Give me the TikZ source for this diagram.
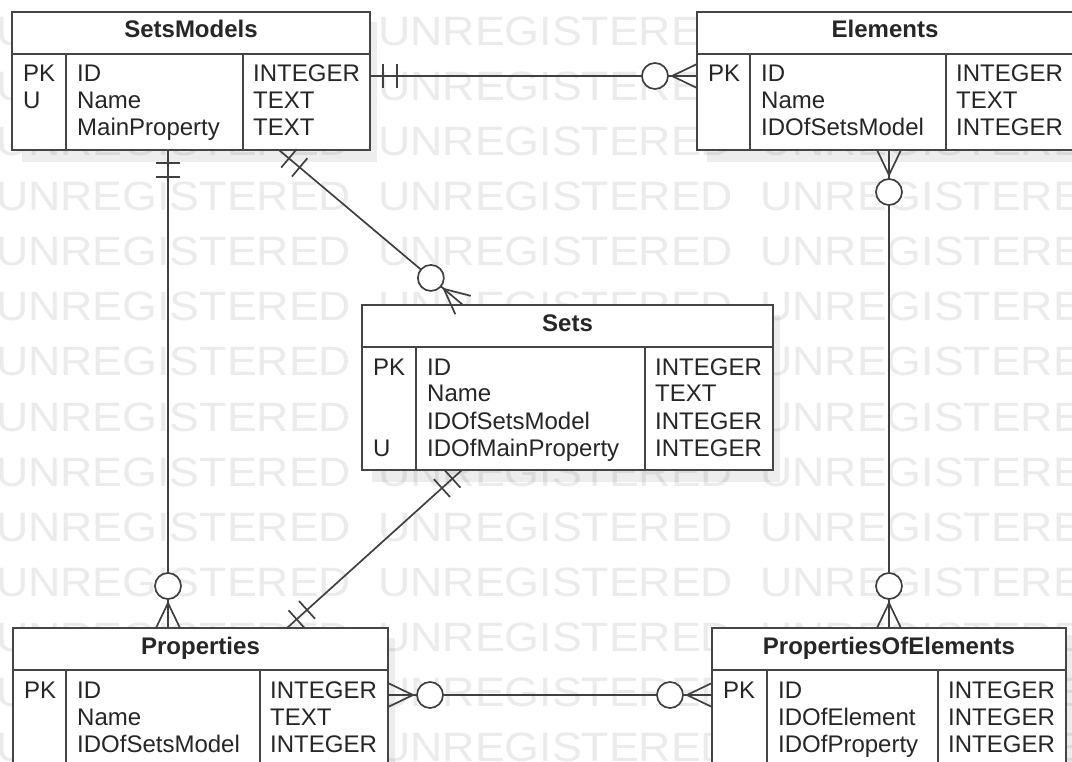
\documentclass[tikz,border=0pt]{standalone}
\usepackage{fontspec}
\usepackage{graphicx}
\setmainfont{Liberation Sans}
\usetikzlibrary{calc}
\definecolor{boxc}{HTML}{454545}
\definecolor{txtc}{HTML}{262626}
\definecolor{wmc}{HTML}{EBEBEB}
\definecolor{linec}{HTML}{404040}
\tikzset{
 tbox/.style={draw=boxc, line width=2pt, fill=white, inner sep=0pt, outer sep=0pt, anchor=north west},
 tline/.style={draw=boxc, line width=2pt},
 ttext/.style={anchor=base, inner sep=0pt, text=txtc, font=\fontsize{24pt}{27pt}\selectfont\bfseries},
 ctext/.style={anchor=base west, inner sep=0pt, text=txtc, font=\fontsize{24pt}{27pt}\selectfont},
 wmtext/.style={anchor=base west, inner sep=0pt, text=wmc, font=\fontsize{41pt}{46pt}\selectfont},
 conn/.style={draw=linec, line width=1.7pt},
 shadowc/.style={fill=black, fill opacity=0.07},
}
% table: name, left, top, width, height, div1, div2, title
\newcommand{\ertable}[8]{%
  \fill[shadowc] ({#2+10},{#3+10}) rectangle ({#2+#4+7},{#3+#5+12});
  \node[tbox, minimum width=#4pt, minimum height=#5pt] (#1) at (#2,#3) {};
  \draw[tline] ($(#1.north west)+(0,42)$) -- ($(#1.north east)+(0,42)$);
  \draw[tline] ($(#1.north west)+(#6,42)$) -- ($(#1.south west)+(#6,0)$);
  \draw[tline] ($(#1.north west)+(#7,42)$) -- ($(#1.south west)+(#7,0)$);
  \node[ttext] (#1-title) at ($(#1.north)+(0,26)$) {#8};
}
% row: table, index, div1, div2, key, field, type
\newcommand{\errow}[7]{%
  \node[ctext] (#1-k#2) at ($(#1.north west)+(11,{70+27*#2})$) {#5};
  \node[ctext] (#1-f#2) at ($(#1.north west)+({#3+11},{70+27*#2})$) {#6};
  \node[ctext] (#1-t#2) at ($(#1.north west)+({#4+10},{70+27*#2})$) {#7};
}
% mandatory one end: endpoint, other point
\newcommand{\crone}[2]{%
  \coordinate (tmpqa) at ($(#1)!13pt!(#2)$);
  \coordinate (tmpqb) at ($(#1)!27pt!(#2)$);
  \draw[conn] ($(tmpqa)!12pt!90:(#2)$) -- ($(tmpqa)!12pt!-90:(#2)$);
  \draw[conn] ($(tmpqb)!12pt!90:(#2)$) -- ($(tmpqb)!12pt!-90:(#2)$);
}
% optional many end: endpoint, other point
\newcommand{\crmany}[2]{%
  \coordinate (tmph) at ($(#1)!25pt!(#2)$);
  \draw[conn] ($(#1)!12pt!90:(#2)$) -- (tmph) -- ($(#1)!12pt!-90:(#2)$);
  \draw[conn, fill=white] ($(#1)!42pt!(#2)$) circle[radius=13pt];
}
\begin{document}
\begin{tikzpicture}[x=1pt, y=-1pt]
\useasboundingbox (0,0) rectangle (1072,762);
\clip (0,0) rectangle (1072,762);
\fill[white] (0,0) rectangle (1072,762);
% watermark
\foreach \r in {0,...,13} {
  \foreach \c in {0,1,2} {
    \node[wmtext] (wm-\r-\c) at ({-4+382*\c},{46+55*\r}) {\scalebox{1.09}[1]{UNREGISTERED}};
  }
}
% tables
\ertable{sm}{12}{12}{358}{138}{54}{231}{SetsModels}
\errow{sm}{0}{54}{231}{PK}{ID}{INTEGER}
\errow{sm}{1}{54}{231}{U}{Name}{TEXT}
\errow{sm}{2}{54}{231}{}{MainProperty}{TEXT}

\ertable{el}{697}{12}{376}{138}{53}{249}{Elements}
\errow{el}{0}{53}{249}{PK}{ID}{INTEGER}
\errow{el}{1}{53}{249}{}{Name}{TEXT}
\errow{el}{2}{53}{249}{}{IDOfSetsModel}{INTEGER}

\ertable{st}{362}{305}{411}{165}{54}{283}{Sets}
\errow{st}{0}{54}{283}{PK}{ID}{INTEGER}
\errow{st}{1}{54}{283}{}{Name}{TEXT}
\errow{st}{2}{54}{283}{}{IDOfSetsModel}{INTEGER}
\errow{st}{3}{54}{283}{U}{IDOfMainProperty}{INTEGER}

\ertable{pr}{13}{628}{375}{138}{53}{247}{Properties}
\errow{pr}{0}{53}{247}{PK}{ID}{INTEGER}
\errow{pr}{1}{53}{247}{}{Name}{TEXT}
\errow{pr}{2}{53}{247}{}{IDOfSetsModel}{INTEGER}

\ertable{poe}{712}{628}{354}{138}{55}{226}{PropertiesOfElements}
\errow{poe}{0}{55}{226}{PK}{ID}{INTEGER}
\errow{poe}{1}{55}{226}{}{IDOfElement}{INTEGER}
\errow{poe}{2}{55}{226}{}{IDOfProperty}{INTEGER}

% connector endpoints
\coordinate (c1a) at ($(sm.north east)+(0,64)$);
\coordinate (c1b) at ($(el.north west)+(0,64)$);
\coordinate (c2a) at ($(sm.south west)+(156,0)$);
\coordinate (c2b) at ($(pr.north west)+(155,0)$);
\coordinate (c3a) at ($(sm.south west)+(267,0)$);
\coordinate (c3b) at ($(st.north west)+(101,0)$);
\coordinate (c4a) at ($(st.south west)+(100,0)$);
\coordinate (c4b) at ($(pr.north west)+(274,0)$);
\coordinate (c5a) at ($(el.south west)+(192,0)$);
\coordinate (c5b) at ($(poe.north west)+(177,0)$);
\coordinate (c6a) at ($(pr.north east)+(0,67)$);
\coordinate (c6b) at ($(poe.north west)+(0,67)$);

% connectors
\draw[conn] (c1a) -- (c1b);
\crone{c1a}{c1b}
\crmany{c1b}{c1a}

\draw[conn] (c2a) -- (c2b);
\crone{c2a}{c2b}
\crmany{c2b}{c2a}

\draw[conn] (c3a) -- (c3b);
\crone{c3a}{c3b}
\crmany{c3b}{c3a}

\draw[conn] (c4a) -- (c4b);
\crone{c4a}{c4b}
\crone{c4b}{c4a}

\draw[conn] (c5a) -- (c5b);
\crmany{c5a}{c5b}
\crmany{c5b}{c5a}

\draw[conn] (c6a) -- (c6b);
\crmany{c6a}{c6b}
\crmany{c6b}{c6a}
\end{tikzpicture}
\end{document}
